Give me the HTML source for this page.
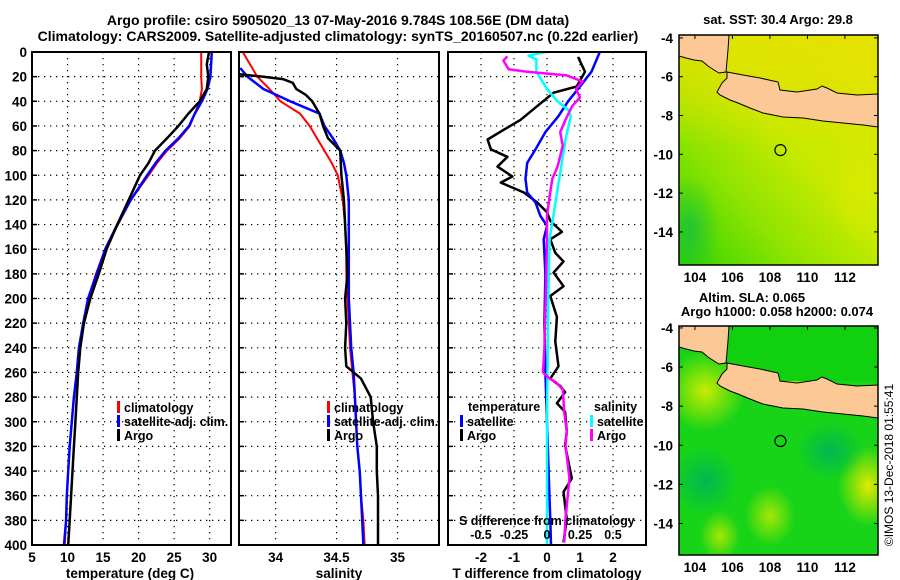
<!DOCTYPE html>
<html><head><meta charset="utf-8">
<style>
html,body{margin:0;padding:0;background:#fff;}
svg{display:block;font-family:"Liberation Sans",Arial,sans-serif;font-weight:bold;}
</style></head>
<body>
<svg id="fig" width="900" height="580" viewBox="0 0 900 580" xmlns="http://www.w3.org/2000/svg">
<defs>
  <linearGradient id="sstGrad" x1="0" y1="1" x2="1" y2="0">
    <stop offset="0" stop-color="#30d400"/>
    <stop offset="0.3" stop-color="#90e400"/>
    <stop offset="0.55" stop-color="#c8ea00"/>
    <stop offset="1" stop-color="#e0e600"/>
  </linearGradient>
  <linearGradient id="topBand" x1="0" y1="0" x2="0" y2="1">
    <stop offset="0" stop-color="#e8e000" stop-opacity="0.7"/>
    <stop offset="0.6" stop-color="#e8e000" stop-opacity="0.4"/>
    <stop offset="1" stop-color="#e8e000" stop-opacity="0"/>
  </linearGradient>
  <radialGradient id="blobY"><stop offset="0" stop-color="#c8ec00"/><stop offset="1" stop-color="#c8ec00" stop-opacity="0"/></radialGradient>
  <radialGradient id="blobY2"><stop offset="0" stop-color="#e0ea00"/><stop offset="1" stop-color="#e0ea00" stop-opacity="0"/></radialGradient>
  <radialGradient id="blobG"><stop offset="0" stop-color="#00b850"/><stop offset="1" stop-color="#00b850" stop-opacity="0"/></radialGradient>
  <clipPath id="clipMap1"><rect x="679" y="35" width="199" height="230"/></clipPath>
  <clipPath id="clipMap2"><rect x="679" y="326" width="199" height="229"/></clipPath>
  <clipPath id="clipP1"><rect x="32" y="52" width="199" height="493"/></clipPath>
  <clipPath id="clipP2"><rect x="239" y="52" width="200" height="493"/></clipPath>
  <clipPath id="clipP3"><rect x="448" y="52" width="198" height="493"/></clipPath>
</defs>
<text x="338" y="25" font-size="14" text-anchor="middle">Argo profile: csiro 5905020_13 07-May-2016 9.784S 108.56E (DM data)</text>
<text x="338" y="41" font-size="14" text-anchor="middle">Climatology: CARS2009. Satellite-adjusted climatology: synTS_20160507.nc (0.22d earlier)</text>
<g id="panels"></g>
<g id="maps"></g>
<text transform="translate(893,465) rotate(-90)" font-size="12" font-weight="normal" text-anchor="middle">©IMOS 13-Dec-2018 01:55:41</text>
</svg>
<script>
// ---- data ----
const depthsT = [0,10,20,30,40,50,60,70,80,90,100,120,140,160,180,200,220,240,260,280,300,320,340,360,380,400];
const tempClim = [28.8,28.8,28.8,28.9,28.6,27.9,27.2,25.8,24.0,22.6,21.4,18.9,17.1,15.3,14.0,12.9,12.2,11.7,11.3,10.9,10.6,10.3,10.1,9.9,9.8,9.6];
const tempSat = [30.3,30.2,30.1,29.7,28.9,27.9,27.1,25.6,23.8,22.4,21.2,18.9,17.0,15.3,14.1,12.9,12.2,11.6,11.3,10.9,10.6,10.3,10.1,9.9,9.8,9.5];
const tempArgo = [29.9,29.6,29.8,29.6,28.6,27.0,25.6,24.0,22.3,21.4,20.2,18.6,17.0,15.5,14.4,13.2,12.3,11.8,11.5,11.3,11.1,10.9,10.7,10.5,10.3,10.1];
const depthsS = [0,10,20,30,40,50,60,70,80,90,100,120,140,160,180,200,220,240,260,280,300,320,340,360,380,400];
const salClim = [33.73,33.79,33.85,33.95,34.04,34.2,34.28,34.34,34.4,34.46,34.51,34.55,34.57,34.58,34.58,34.59,34.6,34.61,34.63,34.65,34.66,34.67,34.69,34.7,34.72,34.73];
const depthsSatS = [13,20,30,40,50,60,70,80,90,100,120,140,160,180,200,220,240,260,280,300,320,340,360,380,400];
const salSat = [33.71,33.77,33.9,34.12,34.36,34.4,34.47,34.53,34.56,34.58,34.6,34.6,34.6,34.6,34.6,34.61,34.62,34.64,34.65,34.66,34.67,34.69,34.7,34.71,34.72];
const depthsArgoS = [18,20,22,25,30,35,40,50,60,70,80,100,120,140,160,180,200,220,240,255,265,280,300,320,340,360,380,400];
const salArgo = [33.7,33.9,34.06,34.14,34.17,34.25,34.3,34.36,34.39,34.43,34.53,34.54,34.56,34.57,34.58,34.59,34.57,34.58,34.57,34.58,34.7,34.78,34.8,34.83,34.83,34.84,34.84,34.84];
const depthsDT = [4,16,28,33,44,55,63,71,79,85,93,101,106,114,122,130,137,146,152,163,170,179,190,198,215,235,255,265,271,276,285,292,308,319,346,357,379,398];
const dTArgo = [0.94,1.15,0.9,0.2,-0.3,-0.8,-1.3,-1.8,-1.7,-1.2,-1.5,-1.05,-1.4,-0.7,-0.3,0.0,0.1,0.45,0.1,0.25,0.5,0.2,0.5,0.1,0.3,0.25,0.35,0.1,0.4,0.55,0.3,0.55,0.6,0.55,0.75,0.5,0.6,0.5];
const depthsDTs = [0,16,28,40,52,65,79,90,103,114,122,133,141,152,180,220,260,300,340,380,400];
const dTSat = [1.6,1.35,1.0,0.64,0.35,-0.05,-0.35,-0.6,-0.65,-0.6,-0.35,-0.2,0.0,-0.1,-0.05,-0.08,-0.05,0.0,0.05,0.1,0.12];
const depthsDSs = [0,3,6,16,30,40,47,52,71,98,125,152,200,300,400];
const dSSat = [-0.015,-0.14,-0.08,-0.08,0.0,0.08,0.16,0.18,0.14,0.1,0.06,0.02,0.01,0.0,0.0];
const depthsDSa = [3.5,7,14,16,19,24,30,37,44,55,65,76,93,103,117,133,152,200,240,260,265,268,274,292,308,319,346,379,398];
const dSArgo = [-0.3,-0.33,-0.29,-0.15,0.15,0.27,0.22,0.25,0.19,0.14,0.1,0.12,0.08,0.04,0.02,0.0,0.0,-0.01,-0.02,-0.03,0.02,0.07,0.12,0.13,0.15,0.14,0.17,0.14,0.13];
const depthTicks = [0,20,40,60,80,100,120,140,160,180,200,220,240,260,280,300,320,340,360,380,400];
const tempTicks = [5,10,15,20,25,30];
const salTicks = [34,34.5,35];
const salTickLabels = ["34","34.5","35"];
const dTTicks = [-2,-1,0,1,2];
const dSTicks = [-0.5,-0.25,0,0.25,0.5];
const dSTickLabels = ["-0.5","-0.25","0","0.25","0.5"];
const latTicks = [-4,-6,-8,-10,-12,-14];
const lonTicks = [104,106,108,110,112];
const argoLon = 108.56, argoLat = -9.784;

// ---- scales ----
const NS = "http://www.w3.org/2000/svg";
const Y0 = 52, Y1 = 545;
const yD = d => Y0 + d/400*(Y1-Y0);
const xT = t => 32 + (t-5)/(33-5)*199;
const xS = s => 239 + (s-33.7)/(35.34-33.7)*200;
const xDT = d => 448 + (d+3)/6*198;
const xDS = d => 448 + (d+0.75)/1.5*198;
const lonX = l => 679 + (l-103.15)*18.75;
const latY1 = la => 35 + (-3.85-la)*19.4;
const latY2 = la => 326 + (-3.9-la)*19.55;

function mk(tag, attrs, parent){
  const e = document.createElementNS(NS, tag);
  for (const k in attrs) e.setAttribute(k, attrs[k]);
  parent.appendChild(e);
  return e;
}
const panels = document.getElementById('panels');
const maps = document.getElementById('maps');

function frame(x, w, name){
  const r = mk('rect', {x:x, y:Y0, width:w, height:Y1-Y0, fill:'none', stroke:'#000', 'stroke-width':2}, panels);
  
  
}
function hgrid(x, w, showLabels){
  depthTicks.forEach(d => {
    const l = mk('line', {x1:x, x2:x+w, y1:yD(d), y2:yD(d), stroke:'#000', 'stroke-width':1.2, 'stroke-dasharray':'1.3,4.7'}, panels);
    
    
    const tk = mk('line', {x1:x, x2:x+5, y1:yD(d), y2:yD(d), stroke:'#000', 'stroke-width':1.5}, panels);
    
    
    if (showLabels){
      const t = mk('text', {x:27, y:yD(d)+5, 'font-size':13.5, 'text-anchor':'end'}, panels);
      t.textContent = d;
      
      
    }
  });
}
function vgrid(vals, labels, sx, ly){
  vals.forEach((v,i) => {
    const l = mk('line', {x1:sx(v), x2:sx(v), y1:Y0, y2:Y1, stroke:'#000', 'stroke-width':1.2, 'stroke-dasharray':'1.3,4.7'}, panels);
    
    
    const t = mk('text', {x:sx(v), y:ly, 'font-size':13.5, 'text-anchor':'middle'}, panels);
    t.textContent = labels[i];
    
    
  });
}
function series(xs, ds, sx, color, w, clip, name){
  const pts = xs.map((v,i) => sx(v).toFixed(1)+','+yD(ds[i]).toFixed(1)).join(' ');
  const p = mk('polyline', {points:pts, fill:'none', stroke:color, 'stroke-width':w, 'stroke-linejoin':'round', 'clip-path':'url(#'+clip+')'}, panels);
  
  
}
function legend(x, y, color, label, name){
  const m = mk('rect', {x:x, y:y-11, width:3, height:12, fill:color}, panels);
  
  
  const t = mk('text', {x:x+7, y:y, 'font-size':12.5}, panels);
  t.textContent = label;
  
  
}
function text(x, y, s, size, anchor, name, parent){
  const t = mk('text', {x:x, y:y, 'font-size':size, 'text-anchor':anchor}, parent||panels);
  t.textContent = s;
  
  
}

// Panel 1 temperature
hgrid(32, 199, true);
vgrid(tempTicks, tempTicks.map(String), xT, 562);
series(tempClim, depthsT, xT, '#ff0000', 2, 'clipP1', 'temp-climatology-line');
series(tempSat, depthsT, xT, '#0000ff', 2.5, 'clipP1', 'temp-satellite-line');
series(tempArgo, depthsT, xT, '#000000', 2.5, 'clipP1', 'temp-argo-line');
frame(32, 199, 'temperature-panel');
legend(117, 412, '#ff0000', 'climatology', 'legend-climatology');
legend(117, 426, '#0000ff', 'satellite-adj. clim.', 'legend-satellite');
legend(117, 440, '#000000', 'Argo', 'legend-argo');
text(130, 578, 'temperature (deg C)', 13.5, 'middle', 'temperature-axis-title');

// Panel 2 salinity
hgrid(239, 200, false);
vgrid(salTicks, salTickLabels, xS, 562);
series(salClim, depthsS, xS, '#ff0000', 2, 'clipP2', 'sal-climatology-line');
series(salSat, depthsSatS, xS, '#0000ff', 2.5, 'clipP2', 'sal-satellite-line');
series(salArgo, depthsArgoS, xS, '#000000', 2.5, 'clipP2', 'sal-argo-line');
frame(239, 200, 'salinity-panel');
legend(327, 412, '#ff0000', 'climatology', 'legend-climatology-2');
legend(327, 426, '#0000ff', 'satellite-adj. clim.', 'legend-satellite-2');
legend(327, 440, '#000000', 'Argo', 'legend-argo-2');
text(339, 578, 'salinity', 13.5, 'middle', 'salinity-axis-title');

// Panel 3 differences
hgrid(448, 198, false);
vgrid(dTTicks, dTTicks.map(String), xDT, 562);
series(dTArgo, depthsDT, xDT, '#000000', 2.5, 'clipP3', 'tdiff-argo-line');
series(dTSat, depthsDTs, xDT, '#0000ff', 2.5, 'clipP3', 'tdiff-satellite-line');
series(dSSat, depthsDSs, xDS, '#00ffff', 2.5, 'clipP3', 'sdiff-satellite-line');
series(dSArgo, depthsDSa, xDS, '#ff00ff', 2.5, 'clipP3', 'sdiff-argo-line');
frame(448, 198, 'difference-panel');
text(468, 411, 'temperature', 12.5, 'start', 'legend-temperature-heading');
legend(460, 426, '#0000ff', 'satellite', 'legend-t-satellite');
legend(460, 440, '#000000', 'Argo', 'legend-t-argo');
text(594, 411, 'salinity', 12.5, 'start', 'legend-salinity-heading');
legend(590, 426, '#00ffff', 'satellite', 'legend-s-satellite');
legend(590, 440, '#ff00ff', 'Argo', 'legend-s-argo');
text(459, 525, 'S difference from climatology', 12.5, 'start', 'sdiff-axis-title');
dSTicks.forEach((v,i) => text(xDS(v), 539, dSTickLabels[i], 12.5, 'middle', 'sdiff-tick-label'));
text(547, 578, 'T difference from climatology', 13.5, 'middle', 'tdiff-axis-title');

// ---- maps ----
const javaPoly = [[727,72],[743,75],[760,78],[778,82],[780,90],[797,92],[817,89],[822,86],[827,88],[837,93],[857,95],[878,94],[878,127],[863,125],[843,123],[823,121],[803,118],[783,117],[763,113],[750,108],[738,103],[730,100],[720,95],[717,92],[722,83],[727,78]];
const sumatraPoly = [[679,35],[729,35],[728,50],[726,72],[719,73],[714,70],[708,66],[702,61],[694,60],[686,58],[679,56]];
function poly(pts, dy){ return pts.map(p => p[0]+','+(p[1]+dy)).join(' '); }

function drawMap(top, h, dy, clip, isSst, latY, name){
  const g = mk('g', {'clip-path':'url(#'+clip+')'}, maps);
  
  
  if (isSst){
    mk('rect', {x:679, y:top, width:199, height:h, fill:'url(#sstGrad)'}, g);
    mk('rect', {x:679, y:top, width:199, height:110, fill:'url(#topBand)'}, g);
    mk('ellipse', {cx:690, cy:top+195, rx:30, ry:55, fill:'url(#blobG)', opacity:0.6}, g);
    mk('ellipse', {cx:860, cy:top+150, rx:30, ry:60, fill:'url(#blobY2)', opacity:0.6}, g);
  } else {
    mk('rect', {x:679, y:top, width:199, height:h, fill:'#18d418'}, g);
    mk('ellipse', {cx:705, cy:top+65, rx:40, ry:40, fill:'url(#blobY)'}, g);
    mk('ellipse', {cx:790, cy:top+60, rx:30, ry:18, fill:'url(#blobY)'}, g);
    mk('ellipse', {cx:868, cy:top+160, rx:30, ry:40, fill:'url(#blobY2)'}, g);
    mk('ellipse', {cx:770, cy:top+190, rx:25, ry:30, fill:'url(#blobY)', opacity:0.8}, g);
    mk('ellipse', {cx:720, cy:top+210, rx:20, ry:25, fill:'url(#blobY)', opacity:0.8}, g);
    mk('ellipse', {cx:705, cy:top+155, rx:35, ry:35, fill:'url(#blobG)'}, g);
    mk('ellipse', {cx:830, cy:top+125, rx:35, ry:30, fill:'url(#blobG)'}, g);
    mk('rect', {x:727, y:top, width:151, height:55, fill:'#10d010'}, g);
  }
  const s = mk('polygon', {points:poly(sumatraPoly, dy), fill:'#fcc896', stroke:'#000', 'stroke-width':1}, g);
  
  
  const j = mk('polygon', {points:poly(javaPoly, dy), fill:'#fcc896', stroke:'#000', 'stroke-width':1}, g);
  
  
  const c = mk('circle', {cx:lonX(argoLon), cy:latY(argoLat), r:5.5, fill:'none', stroke:'#000', 'stroke-width':1.2}, g);
  
  
  const f = mk('rect', {x:679, y:top, width:199, height:h, fill:'none', stroke:'#000', 'stroke-width':1.5}, maps);
  
  
  latTicks.forEach(la => {
    text(673, latY(la)+5, String(la), 13.5, 'end', 'lat-tick-label', maps);
    const tk = mk('line', {x1:679, x2:683, y1:latY(la), y2:latY(la), stroke:'#000', 'stroke-width':1}, maps);
    
    
    const tk2 = mk('line', {x1:874, x2:878, y1:latY(la), y2:latY(la), stroke:'#000', 'stroke-width':1}, maps);
    
    
  });
  lonTicks.forEach(lo => {
    text(lonX(lo), top+h+17, String(lo), 13.5, 'middle', 'lon-tick-label', maps);
    const tk = mk('line', {x1:lonX(lo), x2:lonX(lo), y1:top, y2:top+4, stroke:'#000', 'stroke-width':1}, maps);
    
    
  });
}
drawMap(35, 230, 0, 'clipMap1', true, latY1, 'sst-map');
drawMap(326, 229, 291, 'clipMap2', false, latY2, 'sla-map');
text(778, 24, 'sat. SST: 30.4 Argo: 29.8', 13, 'middle', 'sst-map-title', maps);
text(752, 302, 'Altim. SLA: 0.065', 13, 'middle', 'sla-map-title', maps);
text(777, 316, 'Argo h1000: 0.058 h2000: 0.074', 13, 'middle', 'sla-map-subtitle', maps);
</script>
</body></html>
